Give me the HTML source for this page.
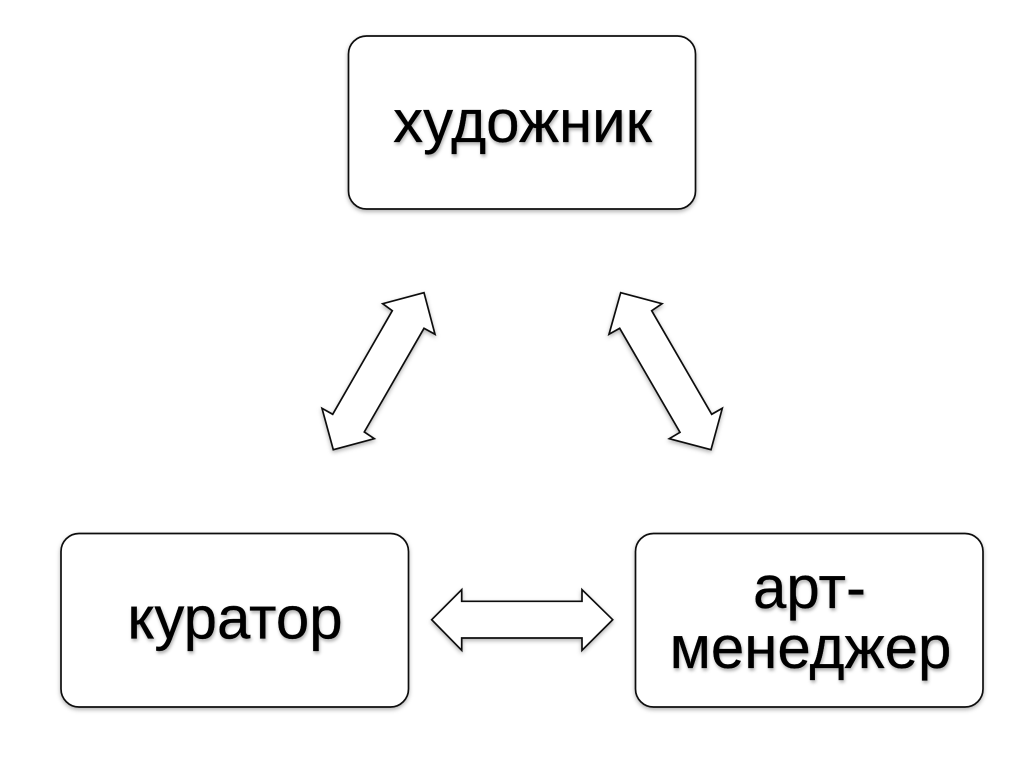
<!DOCTYPE html>
<html><head><meta charset="utf-8"><style>html,body{margin:0;padding:0;background:#fff;width:1024px;height:767px;overflow:hidden}svg{display:block}
text{font-family:"Liberation Sans",sans-serif;font-size:60px;fill:#000;stroke:#000;stroke-width:.3px;text-anchor:middle}</style></head>
<body><svg width="1024" height="767" viewBox="0 0 1024 767" xmlns="http://www.w3.org/2000/svg">
<defs>
<filter id="s" x="-10%" y="-10%" width="120%" height="125%"><feDropShadow dx="0" dy="2" stdDeviation="2" flood-color="#000" flood-opacity=".3"/></filter>
<filter id="t" x="-10%" y="-20%" width="120%" height="150%"><feDropShadow dx="1" dy="2.5" stdDeviation="1.5" flood-color="#000" flood-opacity=".3"/></filter>
</defs>
<g fill="#fff" stroke="#111" stroke-width="1.7" filter="url(#s)">
<rect x="348.5" y="36" width="347" height="173" rx="18"/>
<rect x="61" y="533.5" width="347.5" height="173.5" rx="18"/>
<rect x="635.5" y="533.5" width="347.5" height="173.5" rx="18"/>
<polygon points="424,292.7 435,334.3 424,328.3 364.3,432 374.3,438.7 333.3,449.7 322,408.3 332.7,414.3 392.3,310.7 382.7,303.7"/>
<polygon points="620.7,292.7 662,303.7 651.7,310.7 711.7,414.3 722.3,408.3 711,449.7 669.3,438.7 680,432.3 619.7,328.3 609,334.3"/>
<polygon points="431.7,619.7 461.7,589.7 461.7,601.3 582,601.3 582,589.7 612.7,619.7 582,650.3 582,638 461.7,638 461.7,650.3"/>
</g>
<g filter="url(#t)">
<text x="522.5" y="142">художник</text>
<text x="235" y="638.5">куратор</text>
<text x="809.5" y="608">арт-</text>
<text x="810.5" y="668">менеджер</text>
</g>
</svg></body></html>
